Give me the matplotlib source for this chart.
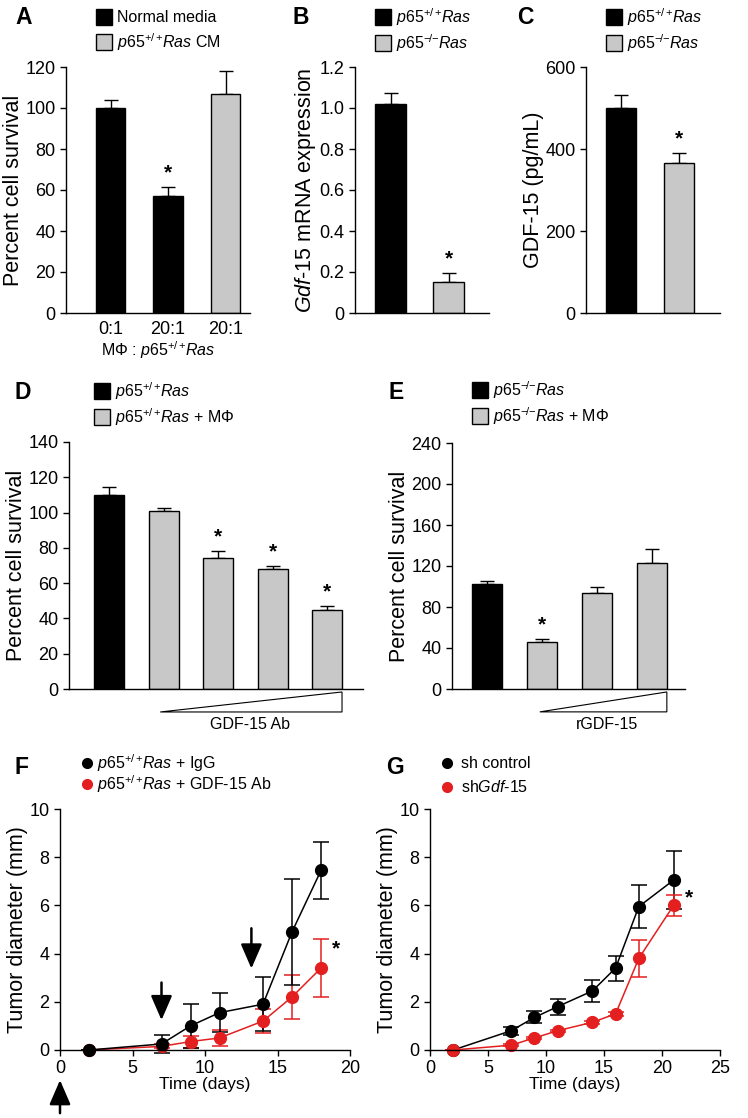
import numpy as np
import matplotlib

matplotlib.use('Agg')
import matplotlib.pyplot as plt
import matplotlib.transforms as mtransforms
from matplotlib.patches import Rectangle, Polygon
from matplotlib.lines import Line2D

plt.rcParams['font.family'] = ['Liberation Sans', 'DejaVu Sans']
plt.rcParams['mathtext.fontset'] = 'custom'
plt.rcParams['mathtext.rm'] = 'Liberation Sans'
plt.rcParams['mathtext.it'] = 'Liberation Sans:italic'
plt.rcParams['mathtext.bf'] = 'Liberation Sans:bold'

W, H = 748, 1118
GRAY = '#c8c8c8'
RED = '#e41f1f'

P_WT = r'$\mathit{p65}^{+/+}\!\mathit{Ras}$'
P_KO = r'$\mathit{p65}^{-\!/\!-}\!\mathit{Ras}$'

# ---- data ----
# A
a_labels = ['0:1', '20:1', '20:1']
a_vals = [100, 57, 107]
a_err = [4, 4.5, 11]
a_colors = ['black', 'black', GRAY]
a_sig = [False, True, False]
# B
b_vals = [1.02, 0.15]
b_err = [0.055, 0.045]
b_sig = [False, True]
# C
c_vals = [500, 365]
c_err = [32, 25]
c_sig = [False, True]
# D
d_vals = [110, 101, 74, 68, 45]
d_err = [4.5, 1.5, 4.5, 2, 2]
d_colors = ['black', GRAY, GRAY, GRAY, GRAY]
d_sig = [False, False, True, True, True]
# E
e_vals = [102, 46, 94, 123]
e_err = [3, 3, 6, 14]
e_colors = ['black', GRAY, GRAY, GRAY]
e_sig = [False, True, False, False]
# F
f_days = [2, 7, 9, 11, 14, 16, 18]
f_igg = [0, 0.25, 1.0, 1.55, 1.9, 4.9, 7.45]
f_igg_err = [0, 0.38, 0.92, 0.8, 1.12, 2.2, 1.18]
f_ab = [0, 0.15, 0.35, 0.5, 1.2, 2.2, 3.4]
f_ab_err = [0, 0.08, 0.25, 0.35, 0.5, 0.93, 1.2]
# G
g_days = [2, 7, 9, 11, 14, 16, 18, 21]
g_ctrl = [0, 0.8, 1.35, 1.8, 2.45, 3.4, 5.95, 7.05]
g_ctrl_err = [0, 0.16, 0.25, 0.33, 0.46, 0.52, 0.88, 1.2]
g_sh = [0, 0.2, 0.5, 0.8, 1.15, 1.5, 3.8, 6.0]
g_sh_err = [0, 0.04, 0.05, 0.05, 0.06, 0.08, 0.78, 0.42]

TICK_FS = 13
YLAB_FS = 15.5
TXT_FS = 11.5

fig = plt.figure(figsize=(W / 100, H / 100), dpi=100)


def axes_px(l, t, r, b):
    return fig.add_axes([l / W, 1 - b / H, (r - l) / W, (b - t) / H])


def style(ax):
    for s in ['top', 'right']:
        ax.spines[s].set_visible(False)
    for s in ['left', 'bottom']:
        ax.spines[s].set_linewidth(1)
    ax.tick_params(direction='out', length=4.5, width=1, labelsize=TICK_FS, pad=3)


def bar_panel(ax, vals, errs, colors, sig, width, xlim, ylim, yticks, yticklabels=None):
    x = np.arange(len(vals))
    ax.bar(x, vals, width, color=colors, edgecolor='black', linewidth=1, zorder=2)
    ax.errorbar(x, vals, yerr=[np.zeros(len(errs)), errs], fmt='none', ecolor='black',
                elinewidth=1, capsize=5, capthick=1, zorder=1)
    for i, s in enumerate(sig):
        if s:
            ax.annotate('*', (x[i], vals[i] + errs[i]), xytext=(0, 10), textcoords='offset points',
                        ha='center', va='center', fontsize=15, fontweight='bold')
    style(ax)
    ax.set_xlim(*xlim)
    ax.set_ylim(*ylim)
    ax.set_yticks(yticks)
    if yticklabels is not None:
        ax.set_yticklabels(yticklabels)
    ax.tick_params(axis='x', length=0)
    ax.set_xticks([])


def legend_sq(x, y, color, label):
    fig.add_artist(Rectangle((x / W, 1 - (y + 16) / H), 16 / W, 16 / H, transform=fig.transFigure,
                             facecolor=color, edgecolor='black', linewidth=1))
    fig.text((x + 21) / W, 1 - (y + 8) / H, label, va='center', ha='left', fontsize=TXT_FS)


def legend_dot(x, y, color, label, tx):
    fig.add_artist(Line2D([x / W], [1 - y / H], marker='o', color=color, markersize=7,
                          transform=fig.transFigure))
    fig.text(tx / W, 1 - y / H, label, va='center', ha='left', fontsize=TXT_FS)


def panel_letter(x, y, s):
    fig.text(x / W, 1 - y / H, s, fontsize=16.5, fontweight='bold', va='center', ha='left')


def ramp(ax, x0, x1, label, lx):
    tr = mtransforms.blended_transform_factory(ax.transData, ax.transAxes)
    ax.add_patch(Polygon([(x0, -0.093), (x1, -0.012), (x1, -0.093)], closed=True, transform=tr,
                         facecolor='white', edgecolor='black', linewidth=0.8, clip_on=False))
    ax.text(lx, -0.143, label, transform=tr, ha='center', va='center', fontsize=TXT_FS)


# ---- A ----
ax = axes_px(66, 67, 250, 313)
bar_panel(ax, a_vals, a_err, a_colors, a_sig, 0.52, (-0.774, 2.426), (0, 120), range(0, 121, 20))
ax.set_xticks(range(len(a_labels)))
ax.set_xticklabels(a_labels)
ax.tick_params(axis='x', pad=6)
ax.set_xlabel('M\u03a6 : ' + P_WT, fontsize=TXT_FS, labelpad=1)
ax.set_ylabel('Percent cell survival', fontsize=YLAB_FS, labelpad=1)
panel_letter(15, 18, 'A')
legend_sq(96, 9, 'black', 'Normal media')
legend_sq(96, 34, GRAY, P_WT + ' CM')

# ---- B ----
ax = axes_px(355, 67, 489, 313)
bar_panel(ax, b_vals, b_err, ['black', GRAY], b_sig, 0.52, (-0.612, 1.698), (0, 1.2),
          np.arange(0, 1.21, 0.2), ['0', '0.2', '0.4', '0.6', '0.8', '1.0', '1.2'])
ax.set_ylabel(r'$\mathit{Gdf}$-$\mathit{15}$ mRNA expression', fontsize=YLAB_FS, labelpad=1)
panel_letter(293, 18, 'B')
legend_sq(375, 9, 'black', P_WT)
legend_sq(375, 35, GRAY, P_KO)

# ---- C ----
ax = axes_px(586, 67, 720, 313)
bar_panel(ax, c_vals, c_err, ['black', GRAY], c_sig, 0.52, (-0.603, 1.707), (0, 600), [0, 200, 400, 600])
ax.set_ylabel('GDF-15 (pg/mL)', fontsize=YLAB_FS, labelpad=1)
panel_letter(517, 18, 'C')
legend_sq(606, 9, 'black', P_WT)
legend_sq(606, 35, GRAY, P_KO)

# ---- D ----
ax = axes_px(69, 442, 363, 689)
bar_panel(ax, d_vals, d_err, d_colors, d_sig, 0.55, (-0.734, 4.66), (0, 140), range(0, 141, 20))
ax.set_ylabel('Percent cell survival', fontsize=YLAB_FS, labelpad=1)
ramp(ax, 0.94, 4.275, 'GDF-15 Ab', 2.59)
panel_letter(15, 392, 'D')
legend_sq(94, 383, 'black', P_WT)
legend_sq(94, 409, GRAY, P_WT + ' + M\u03a6')

# ---- E ----
ax = axes_px(452, 443, 685, 689)
bar_panel(ax, e_vals, e_err, e_colors, e_sig, 0.545, (-0.636, 3.6), (0, 240), range(0, 241, 40))
ax.set_ylabel('Percent cell survival', fontsize=YLAB_FS, labelpad=1)
ramp(ax, 0.96, 3.27, 'rGDF-15', 2.18)
panel_letter(388, 392, 'E')
legend_sq(472, 382, 'black', P_KO)
legend_sq(472, 408, GRAY, P_KO + ' + M\u03a6')


# ---- F / G line panels ----
def line_panel(ax, days, series, xlim, xticks):
    for y, err, col in series:
        ax.errorbar(days, y, yerr=err, color=col, ecolor=col, marker='o', markersize=8.5, linewidth=1.1,
                    elinewidth=1.1, capsize=5.5, capthick=1.1, clip_on=False)
    style(ax)
    ax.set_xlim(*xlim)
    ax.set_ylim(0, 10)
    ax.set_xticks(xticks)
    ax.set_yticks(range(0, 11, 2))
    ax.set_xlabel('Time (days)', fontsize=12.5, labelpad=0)
    ax.set_ylabel('Tumor diameter (mm)', fontsize=YLAB_FS, labelpad=1)


ax = axes_px(60, 809, 350, 1050)
line_panel(ax, f_days, [(f_ab, f_ab_err, RED), (f_igg, f_igg_err, 'black')], (0, 20), [0, 5, 10, 15, 20])
ax.text(19, 4.2, '*', fontsize=15, fontweight='bold', ha='center', va='center')
arrow = dict(arrowstyle='-|>,head_length=1.5,head_width=0.65', color='black', lw=1.8,
             shrinkA=0, shrinkB=0, mutation_scale=10)
ax.annotate('', xy=(7, 1.24), xytext=(7, 2.8), arrowprops=arrow)
ax.annotate('', xy=(13.2, 3.38), xytext=(13.2, 5.05), arrowprops=arrow)
ax.annotate('', xy=(0, -0.125), xytext=(0, -0.262), xycoords=('data', 'axes fraction'),
            textcoords=('data', 'axes fraction'), arrowprops=arrow, annotation_clip=False)
panel_letter(15, 768, 'F')
legend_dot(87, 763, 'black', P_WT + ' + IgG', 97)
legend_dot(87, 784, RED, P_WT + ' + GDF-15 Ab', 97)

ax = axes_px(430, 809, 720, 1050)
line_panel(ax, g_days, [(g_ctrl, g_ctrl_err, 'black'), (g_sh, g_sh_err, RED)], (0, 25), [0, 5, 10, 15, 20, 25])
ax.text(22.3, 6.3, '*', fontsize=15, fontweight='bold', ha='center', va='center')
panel_letter(386, 768, 'G')
legend_dot(447, 763, 'black', 'sh control', 461)
legend_dot(447, 787, RED, r'sh$\mathit{Gdf}$-$\mathit{15}$', 461)

plt.savefig('out.png', dpi=100)
